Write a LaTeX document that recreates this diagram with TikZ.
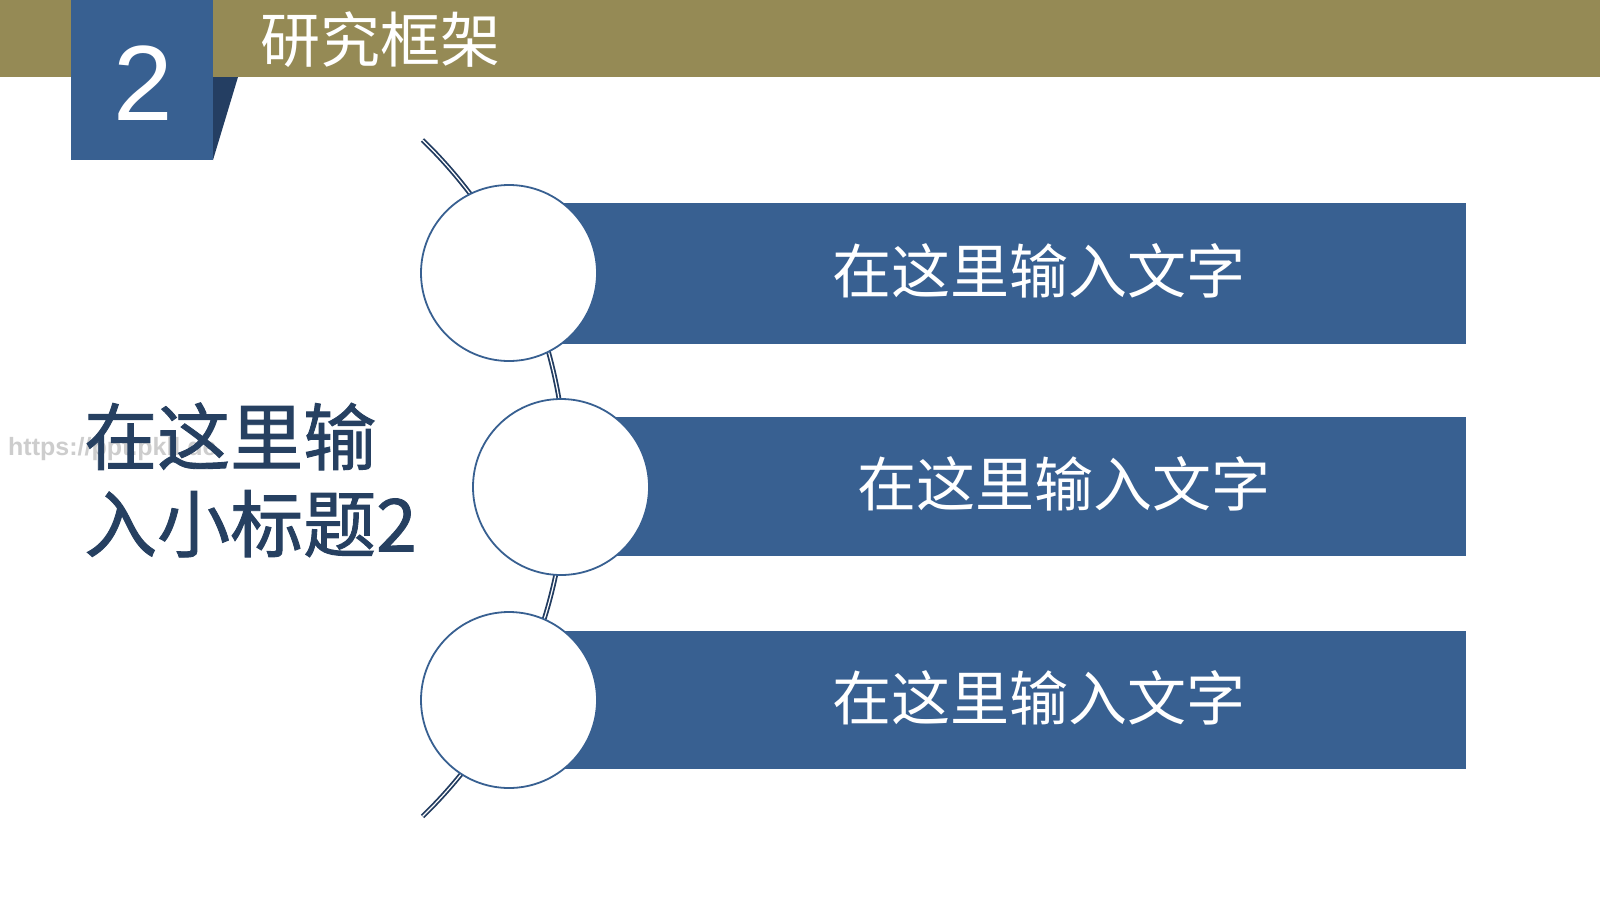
\documentclass[tikz,border=0pt]{standalone}
\usepackage{fontspec}
\setmainfont{Liberation Sans}
\newfontfamily\cjk{Noto Sans CJK SC}
\newfontfamily\cjkm[FakeBold=1.2]{Noto Sans CJK SC}
\definecolor{olive}{RGB}{149,138,85}
\definecolor{boxblue}{RGB}{56,96,145}
\definecolor{shadowblue}{RGB}{36,62,98}
\definecolor{subblue}{RGB}{38,64,97}
\definecolor{arcblue}{RGB}{34,60,96}
\definecolor{wmgray}{RGB}{205,205,205}
\tikzset{
  barbox/.style={fill=boxblue, draw=none},
  ringnode/.style={circle, fill=white, draw=boxblue, line width=1.8pt, minimum size=176pt, inner sep=0pt},
  bartext/.style={text=white, font=\cjk\fontsize{59}{70}\selectfont, inner sep=0pt},
  arcline/.style={draw=arcblue, line width=1.8pt, double=white, double distance=1.2pt}
}
\begin{document}
\begin{tikzpicture}[x=1pt,y=1pt]
\useasboundingbox (0,0) rectangle (1600,-900);
\fill[white] (0,0) rectangle (1600,-900);
% header
\fill[olive] (0,0) rectangle (1600,-77);
\fill[shadowblue] (213,-77) -- (238,-77) -- (213,-160) -- cycle;
\fill[boxblue] (71,0) rectangle (213,-160);
\node[text=white, font=\fontsize{107}{120}\selectfont, inner sep=0pt] (num) at (143,-83) {2};
\node[text=white, font=\cjk\fontsize{60}{70}\selectfont, inner sep=0pt] (title) at (380,-40) {研究框架};
% watermark
\node[text=wmgray, font=\fontsize{25}{30}\selectfont\bfseries, inner sep=0pt, anchor=west] (wm) at (8,-449) {https://ppt.pkll.de};
% subtitle
\node[text=subblue, font=\cjkm\fontsize{73}{87}\selectfont, inner sep=0pt, anchor=west, align=left] (sub) at (84,-480) {在这里输\\入小标题2};
% arc
\coordinate (arcTop) at (422.5,-140);
\draw[arcline] (arcTop) arc[start angle=45.9, end angle=-45.9, radius=471pt] coordinate (arcBot);
% bars
\fill[barbox] (509,-203) rectangle (1466,-344);
\fill[barbox] (561,-417) rectangle (1466,-556);
\fill[barbox] (509,-631) rectangle (1466,-769);
% circles
\node[ringnode] (c1) at (509,-273) {};
\node[ringnode] (c2) at (561,-487) {};
\node[ringnode] (c3) at (509,-700) {};
% texts
\node[bartext] (t1) at (1039,-271) {在这里输入文字};
\node[bartext] (t2) at (1064,-484) {在这里输入文字};
\node[bartext] (t3) at (1039,-698) {在这里输入文字};
\end{tikzpicture}
\end{document}
